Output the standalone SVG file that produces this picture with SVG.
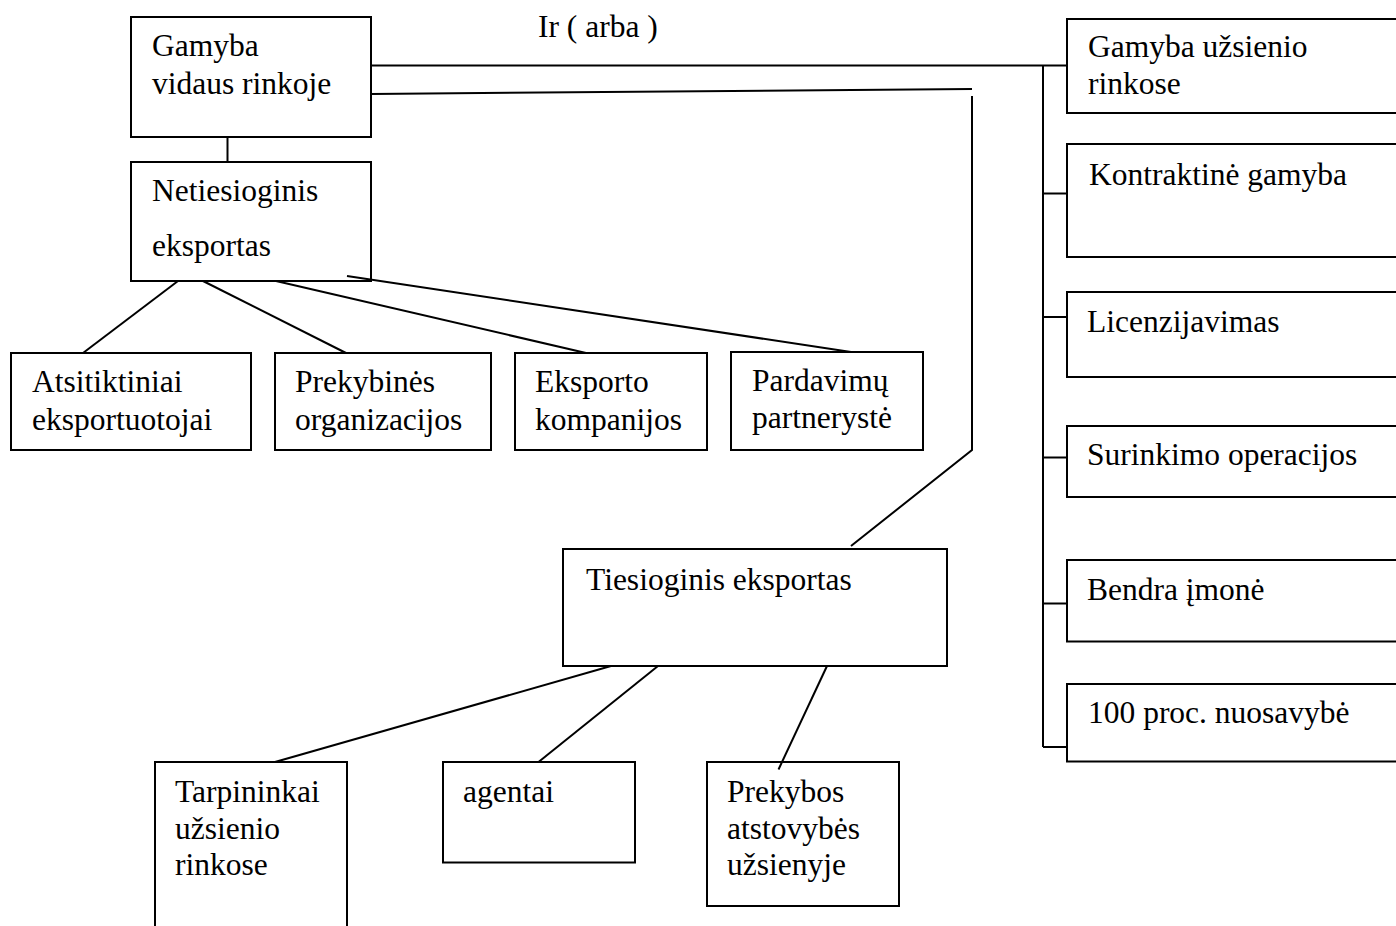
<svg xmlns="http://www.w3.org/2000/svg" width="1396" height="926" viewBox="0 0 1396 926">
  <style>
    .box { fill: #ffffff; stroke: #000000; stroke-width: 2; }
    .wire { fill: none; stroke: #000000; stroke-width: 2; stroke-linecap: butt; }
    text { font-family: "Liberation Serif", "Times New Roman", serif; font-size: 31.5px; fill: #000000; }
  </style>
  <rect x="0" y="0" width="1396" height="926" fill="#ffffff"/>

  <text x="538" y="37">Ir ( arba )</text>

  <g id="gamyba-vidaus">
    <rect class="box" x="131" y="17" width="240" height="120"/>
    <text x="152" y="56">Gamyba</text>
    <text x="152" y="94">vidaus rinkoje</text>
  </g>

  <g id="netiesioginis">
    <rect class="box" x="131" y="162" width="240" height="119"/>
    <text x="152" y="201">Netiesioginis</text>
    <text x="152" y="256">eksportas</text>
  </g>

  <g id="atsitiktiniai">
    <rect class="box" x="11" y="353" width="240" height="97"/>
    <text x="32" y="392">Atsitiktiniai</text>
    <text x="32" y="430">eksportuotojai</text>
  </g>

  <g id="prekybines">
    <rect class="box" x="275" y="353" width="216" height="97"/>
    <text x="295" y="392">Prekybinės</text>
    <text x="295" y="430">organizacijos</text>
  </g>

  <g id="eksporto">
    <rect class="box" x="515" y="353" width="192" height="97"/>
    <text x="535" y="392">Eksporto</text>
    <text x="535" y="430">kompanijos</text>
  </g>

  <g id="pardavimu">
    <rect class="box" x="731" y="352" width="192" height="98"/>
    <text x="752" y="391">Pardavimų</text>
    <text x="752" y="428">partnerystė</text>
  </g>

  <g id="tiesioginis">
    <rect class="box" x="563" y="549" width="384" height="117"/>
    <text x="586" y="590">Tiesioginis eksportas</text>
  </g>

  <g id="tarpininkai">
    <path class="box" d="M155,930 V762 H347 V930"/>
    <text x="175" y="801.5">Tarpininkai</text>
    <text x="175" y="838.5">užsienio</text>
    <text x="175" y="875">rinkose</text>
  </g>

  <g id="agentai">
    <rect class="box" x="443" y="762" width="192" height="100.5"/>
    <text x="463" y="801.5">agentai</text>
  </g>

  <g id="prekybos">
    <rect class="box" x="707" y="762" width="192" height="144"/>
    <text x="727" y="801.5">Prekybos</text>
    <text x="727" y="838.5">atstovybės</text>
    <text x="727" y="875">užsienyje</text>
  </g>

  <g id="gamyba-uzsienio">
    <rect class="box" x="1067" y="19" width="340" height="94"/>
    <text x="1088" y="57">Gamyba užsienio</text>
    <text x="1088" y="94">rinkose</text>
  </g>

  <g id="kontraktine">
    <rect class="box" x="1067" y="144" width="340" height="113"/>
    <text x="1089" y="185">Kontraktinė gamyba</text>
  </g>

  <g id="licenzijavimas">
    <rect class="box" x="1067" y="292" width="340" height="85"/>
    <text x="1087" y="331.5">Licenzijavimas</text>
  </g>

  <g id="surinkimo">
    <rect class="box" x="1067" y="426" width="340" height="71"/>
    <text x="1087" y="465">Surinkimo operacijos</text>
  </g>

  <g id="bendra">
    <rect class="box" x="1067" y="560" width="340" height="81.5"/>
    <text x="1087" y="600">Bendra įmonė</text>
  </g>

  <g id="nuosavybe">
    <rect class="box" x="1067" y="684" width="340" height="77.5"/>
    <text x="1088" y="723">100 proc. nuosavybė</text>
  </g>

  <!-- connectors, drawn over the boxes so line ends inside a box stay visible -->
  <g id="connectors">
    <!-- domestic production to indirect export -->
    <line class="wire" x1="227.5" y1="137" x2="227.5" y2="162"/>
    <!-- domestic production to foreign production bus -->
    <line class="wire" x1="371" y1="65.5" x2="1067" y2="65.5"/>
    <!-- domestic production to direct export -->
    <polyline class="wire" points="371,94 972,89"/>
    <polyline class="wire" points="972,96 972,450 851,546"/>
    <!-- right-hand bus with ticks -->
    <line class="wire" x1="1043" y1="65.5" x2="1043" y2="747"/>
    <line class="wire" x1="1043" y1="193.5" x2="1067" y2="193.5"/>
    <line class="wire" x1="1043" y1="317" x2="1067" y2="317"/>
    <line class="wire" x1="1043" y1="457.5" x2="1067" y2="457.5"/>
    <line class="wire" x1="1043" y1="603.5" x2="1067" y2="603.5"/>
    <line class="wire" x1="1043" y1="747" x2="1067" y2="747"/>
    <!-- indirect export branches -->
    <line class="wire" x1="178" y1="281" x2="83" y2="353"/>
    <line class="wire" x1="203" y1="281" x2="346" y2="353"/>
    <line class="wire" x1="276" y1="281" x2="586" y2="353"/>
    <line class="wire" x1="347" y1="276" x2="851" y2="352"/>
    <!-- direct export branches -->
    <line class="wire" x1="611" y1="666" x2="275" y2="762"/>
    <line class="wire" x1="658" y1="666" x2="538.5" y2="762"/>
    <line class="wire" x1="827" y1="666" x2="778.5" y2="769.5"/>
  </g>
</svg>
